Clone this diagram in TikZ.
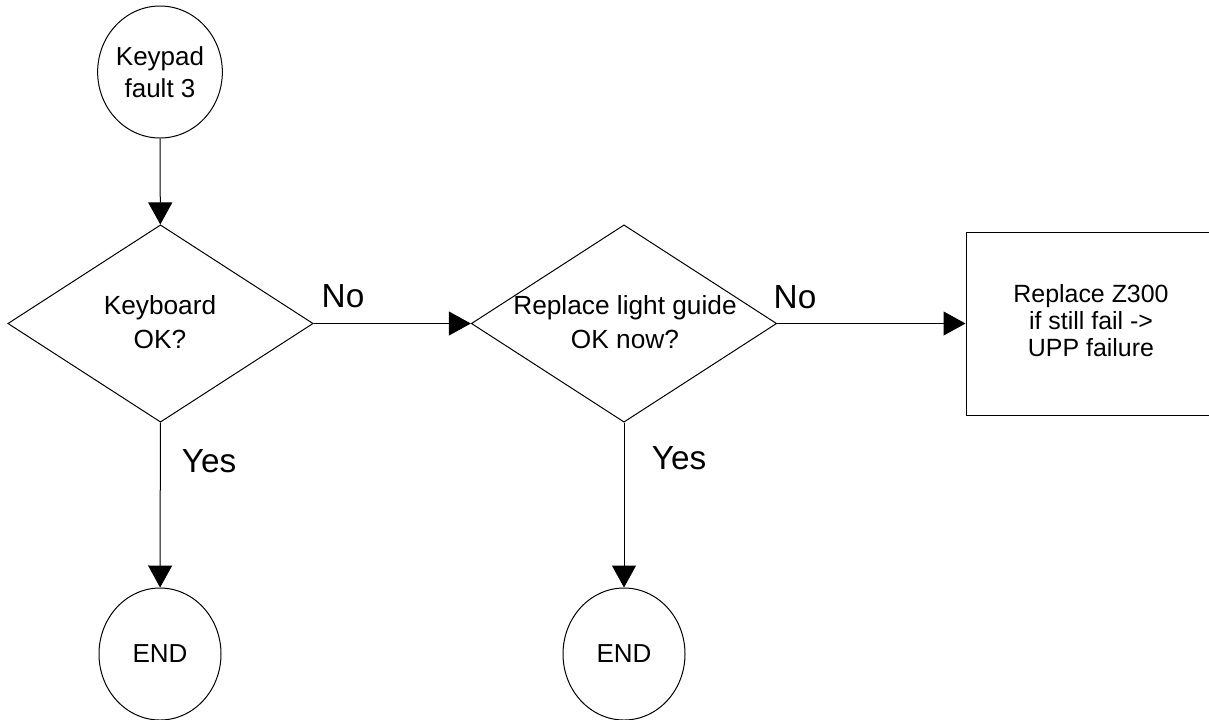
\documentclass[tikz,border=0pt]{standalone}
\usepackage{fontspec}
\setmainfont{Liberation Sans}
\usetikzlibrary{shapes.geometric,arrows.meta}

\tikzset{
	flow/.style={line width=.75pt,-{Triangle[length=16.5pt,width=18pt]}},
	term/.style={draw,ellipse,line width=.75pt,minimum width=91.5pt,minimum height=99pt,inner sep=0pt,align=center,font=\fontsize{19.5}{24}\selectfont},
	decision/.style={draw,diamond,line width=.75pt,minimum width=229pt,minimum height=148pt,inner sep=0pt},
	dtext/.style={align=center,font=\fontsize{19.7}{25}\selectfont},
	action/.style={draw,rectangle,line width=.75pt,minimum width=187.5pt,minimum height=137.25pt,inner sep=0pt,text depth=5pt,align=center,font=\fontsize{18.7}{20.3}\selectfont},
	answer/.style={font=\fontsize{25}{30}\selectfont},
}

\begin{document}
\begin{tikzpicture}[x=.75pt,y=-.75pt]
	\useasboundingbox (0,0) rectangle (1209,719);

	% shapes
	\node[term] (start) at (160,72) {Keypad\\fault 3};
	\node[decision] (kbd) at (160.5,323.5) {};
	\node[dtext] (kbdtext) at (160,322) {Keyboard\\OK?};
	\node[decision] (guide) at (624,323.5) {};
	\node[dtext] (guidetext) at (625,322) {Replace light guide\\OK now?};
	\node[action] (fix) at (1091,323.5) {Replace Z300\\if still fail ->\\UPP failure};
	\node[term] (end1) at (160,654) {END};
	\node[term] (end2) at (624,654) {END};

	% connectors
	\draw[flow] (start) -- (kbd);
	\draw[flow] (kbd) -- (guide);
	\draw[flow] (guide) -- (fix);
	\draw[flow] (kbd) -- (end1);
	\draw[flow] (guide) -- (end2);

	% answers
	\node[answer] (no1) at (343,296) {No};
	\node[answer] (no2) at (795,297) {No};
	\node[answer] (yes1) at (209,461) {Yes};
	\node[answer] (yes2) at (679,458) {Yes};
\end{tikzpicture}
\end{document}
